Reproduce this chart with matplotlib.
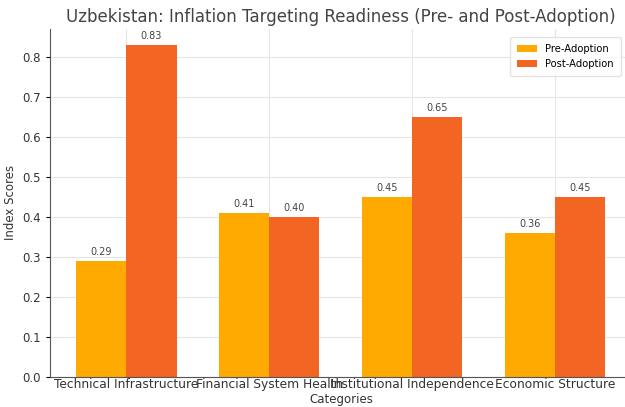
import matplotlib.pyplot as plt
import numpy as np

categories = ["Technical Infrastructure", "Financial System Health",
              "Institutional Independence", "Economic Structure"]
pre_adoption = [0.29, 0.41, 0.45, 0.36]
post_adoption = [0.83, 0.40, 0.65, 0.45]

fig = plt.figure(figsize=(6.25, 4.07), dpi=100)
ax = fig.add_axes([0.08, 0.074, 0.931, 0.855])

x = np.arange(len(categories))
w = 0.35
b1 = ax.bar(x - w / 2, pre_adoption, w, label="Pre-Adoption", color="#FFAA00")
b2 = ax.bar(x + w / 2, post_adoption, w, label="Post-Adoption", color="#F26522")

for bars in (b1, b2):
    for b in bars:
        h = b.get_height()
        ax.annotate(f"{h:.2f}", xy=(b.get_x() + b.get_width() / 2, h),
                    xytext=(0, 3), textcoords="offset points",
                    ha="center", va="bottom", fontsize=7, color="#444444")

ax.set_xticks(x)
ax.set_xticklabels(categories, fontsize=8.8, color="#333333")
ax.tick_params(axis="x", pad=1, length=0)
ax.tick_params(axis="y", labelsize=8.5, labelcolor="#333333", length=3)
ax.set_ylabel("Index Scores", fontsize=8.5, color="#333333")
ax.set_xlabel("Categories", fontsize=8.5, color="#333333", labelpad=1)
ax.set_title("Uzbekistan: Inflation Targeting Readiness (Pre- and Post-Adoption)",
             fontsize=12, color="#444444", pad=5)

ax.grid(True, color="#e5e5e5", linewidth=0.8)
ax.set_axisbelow(True)
for s in ("top", "right"):
    ax.spines[s].set_visible(False)
for s in ("left", "bottom"):
    ax.spines[s].set_color("#555555")

ax.legend(loc="upper right", fontsize=7.2, frameon=True, edgecolor="#dddddd",
          borderpad=0.7, bbox_to_anchor=(0.99, 0.99))

fig.savefig("out.png", dpi=100)
